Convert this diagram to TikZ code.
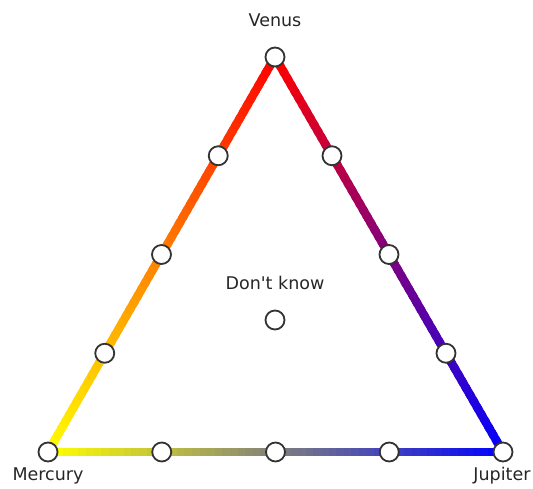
\documentclass[tikz,border=0pt]{standalone}
\usepackage{fontspec}
\setmainfont{DejaVu Sans}
\usetikzlibrary{calc}
\definecolor{cred}{RGB}{255,0,0}
\definecolor{cyellow}{RGB}{255,255,0}
\definecolor{cblue}{RGB}{0,0,255}
\tikzset{
  dot/.style={circle, draw=black!80, fill=white, line width=1.8pt, minimum size=19pt, inner sep=0pt},
  vlabel/.style={font=\fontsize{17.5}{20}\selectfont, text=black!85},
  seg/.style={line width=8.5pt, line cap=butt},
}
% edge with a colour ramp: from node, to node, start colour, end colour
\newcommand{\gradedge}[4]{%
  \foreach \i in {0,...,59}{
    \pgfmathsetmacro{\pa}{\i/60}
    \pgfmathsetmacro{\pb}{min(1,(\i+1.6)/60)}
    \pgfmathtruncatemacro{\pc}{100*(\i+0.5)/60}
    \colorlet{segcol}{#4!\pc!#3}
    \draw[seg, segcol] ($(#1)!\pa!(#2)$) -- ($(#1)!\pb!(#2)$);
  }}

\begin{document}
\begin{tikzpicture}[x=1pt, y=-1pt]
  \useasboundingbox (0,0) rectangle (533,489);
  \coordinate (venus) at (275,57);
  \coordinate (mercury) at (48,452);
  \coordinate (jupiter) at (503,452);
  % edges
  \gradedge{venus}{mercury}{cred}{cyellow}
  \gradedge{venus}{jupiter}{cred}{cblue}
  \gradedge{mercury}{jupiter}{cyellow}{cblue}
  % corner answers
  \node[dot] (v) at (venus) {};
  \node[dot] (m) at (mercury) {};
  \node[dot] (j) at (jupiter) {};
  % answers along the edges
  \foreach \t [count=\k] in {0.25,0.5,0.75}{
    \node[dot] (vm\k) at ($(venus)!\t!(mercury)$) {};
    \node[dot] (vj\k) at ($(venus)!\t!(jupiter)$) {};
    \node[dot] (mj\k) at ($(mercury)!\t!(jupiter)$) {};
  }
  \node[dot] (dk) at (275,320) {};
  % labels
  \node[vlabel] (lv) at (275,20) {Venus};
  \node[vlabel] (lm) at (48,476) {Mercury};
  \node[vlabel] (lj) at (502,476) {Jupiter};
  \node[vlabel] (ldk) at (275,283) {Don\textquotesingle t know};
\end{tikzpicture}
\end{document}
